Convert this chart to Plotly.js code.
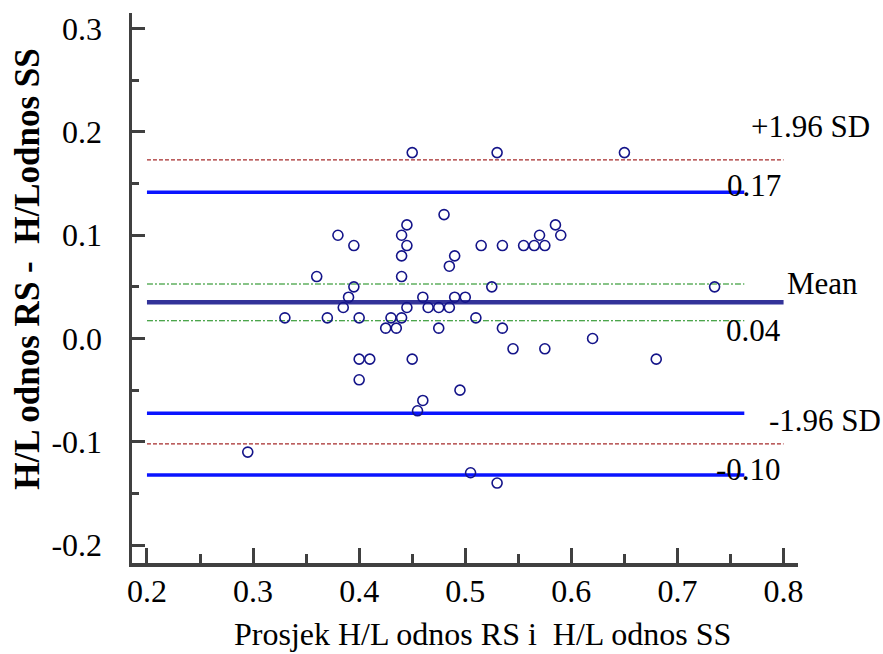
<!DOCTYPE html>
<html>
<head>
<meta charset="utf-8">
<script src="https://cdn.plot.ly/plotly-3.0.1.min.js"></script>
<style>html,body{margin:0;padding:0;background:#fff;}#chart{width:883px;height:654px;}</style>
</head>
<body>
<div id="chart"></div>
<script>
// Scatter points: mean of the two methods (x) and difference (y)
const meanX = [0.45,0.53,0.65,0.48,0.445,0.585,0.38,0.44,0.57,0.59,
  0.395,0.445,0.515,0.535,0.555,0.565,0.575,0.44,0.49,0.485,
  0.36,0.44,0.395,0.525,0.735,0.39,0.46,0.49,0.50,0.385,
  0.445,0.465,0.475,0.485,0.33,0.37,0.40,0.43,0.44,0.51,
  0.425,0.435,0.475,0.535,0.62,0.545,0.575,0.40,0.41,0.45,
  0.68,0.40,0.495,0.46,0.455,0.295,0.505,0.53];
const diffY = [0.18,0.18,0.18,0.12,0.11,0.11,0.10,0.10,0.10,0.10,
  0.09,0.09,0.09,0.09,0.09,0.09,0.09,0.08,0.08,0.07,
  0.06,0.06,0.05,0.05,0.05,0.04,0.04,0.04,0.04,0.03,
  0.03,0.03,0.03,0.03,0.02,0.02,0.02,0.02,0.02,0.02,
  0.01,0.01,0.01,0.01,0.00,-0.01,-0.01,-0.02,-0.02,-0.02,
  -0.02,-0.04,-0.05,-0.06,-0.07,-0.11,-0.13,-0.14];

// Reference lines (y values)
const meanLine = 0.035;
const loaLines = [0.173, -0.102];             // red dashed
const blueLines = [0.1415, -0.0724, -0.1321]; // blue solid
const greenLines = [0.0528, 0.0172];          // green dash-dot

// Labels
const labelTexts = ["+1.96 SD", "0.17", "Mean", "0.04", "-1.96 SD", "-0.10"];
const xTitle = "Prosjek H/L odnos RS i\u00a0 H/L odnos SS";
const yTitle = "H/L odnos RS -\u00a0 H/Lodnos SS";
const xTicks = [0.2,0.3,0.4,0.5,0.6,0.7,0.8];
const yTicks = [-0.2,-0.1,0.0,0.1,0.2,0.3];
const yTickText = ["-0.2","-0.1","0.0","0.1","0.2","0.3"];

const X0 = 0.2, XS = 0.763, XL = 0.8;
const traces = [];
function hline(y, x1, color, width, dash) {
  traces.push({x:[X0, x1], y:[y, y], mode:'lines', type:'scatter', hoverinfo:'skip',
    line:{color:color, width:width, dash:dash}, showlegend:false});
}
loaLines.forEach(v => hline(v, XL, '#a52a2a', 1.3, '4px,2px'));
greenLines.forEach(v => hline(v, XS, '#118811', 1.1, '6px,2px,2px,2px'));
blueLines.forEach(v => hline(v, XS, '#0a14ff', 3.5, 'solid'));
hline(meanLine, XL, '#333399', 4.5, 'solid');

traces.push({x:meanX, y:diffY, mode:'markers', type:'scatter', showlegend:false,
  marker:{symbol:'circle-open', size:10, color:'#141489', line:{width:1.6, color:'#141489'}}});

const F = 'Liberation Serif';
// label anchor positions (paper coords for x, data coords for y)
const labelPos = [
  {x:1.111, y:0.205, xa:'right'},
  {x:0.977, y:0.1486, xa:'right'},
  {x:0.981, y:0.0528, xa:'left'},
  {x:0.977, y:0.0082, xa:'right'},
  {x:0.954, y:-0.0796, xa:'left'},
  {x:0.977, y:-0.1273, xa:'right'}
];
const annotations = labelTexts.map((t,i) => ({
  text:t, x:labelPos[i].x, y:labelPos[i].y, xref:'paper', yref:'y',
  xanchor:labelPos[i].xa, yanchor:'middle', showarrow:false,
  font:{family:F, size:31, color:'#000'}
}));
annotations.push({text:xTitle, xref:'paper', yref:'paper', x:0.527, y:-0.129,
  xanchor:'center', yanchor:'middle', showarrow:false, font:{family:F, size:32, color:'#000'}});
annotations.push({text:'<b>'+yTitle+'</b>', xref:'paper', yref:'paper', x:-0.158, y:0.5345,
  xanchor:'center', yanchor:'middle', textangle:-90, showarrow:false, font:{family:F, size:35, color:'#000'}});

const layout = {
  width:883, height:654,
  margin:{l:132, r:85, t:13, b:91, pad:0},
  paper_bgcolor:'#fff', plot_bgcolor:'#fff',
  showlegend:false,
  font:{family:F},
  xaxis:{range:[0.1859,0.8136], showgrid:false, zeroline:false, showline:true,
    linecolor:'#404040', linewidth:3.5, ticks:'inside', ticklen:15, tickwidth:3, tickcolor:'#404040',
    tickvals:xTicks, ticktext:xTicks.map(v=>v.toFixed(1)),
    tickfont:{family:F, size:32, color:'#000'}, ticklabelstandoff:-3,
    minor:{tickvals:[0.25,0.35,0.45,0.55,0.65,0.75], ticks:'inside', ticklen:9, tickwidth:3, tickcolor:'#404040'}},
  yaxis:{range:[-0.2174,0.3152], showgrid:false, zeroline:false, showline:true,
    linecolor:'#404040', linewidth:3.5, ticks:'inside', ticklen:13, tickwidth:3, tickcolor:'#404040',
    tickvals:yTicks, ticktext:yTickText,
    tickfont:{family:F, size:32, color:'#000'}, ticklabelstandoff:20,
    minor:{tickvals:[-0.15,-0.05,0.05,0.15,0.25], ticks:'inside', ticklen:7, tickwidth:3, tickcolor:'#404040'}},
  annotations:annotations
};
Plotly.newPlot('chart', traces, layout, {staticPlot:true, displayModeBar:false});
</script>
</body>
</html>
